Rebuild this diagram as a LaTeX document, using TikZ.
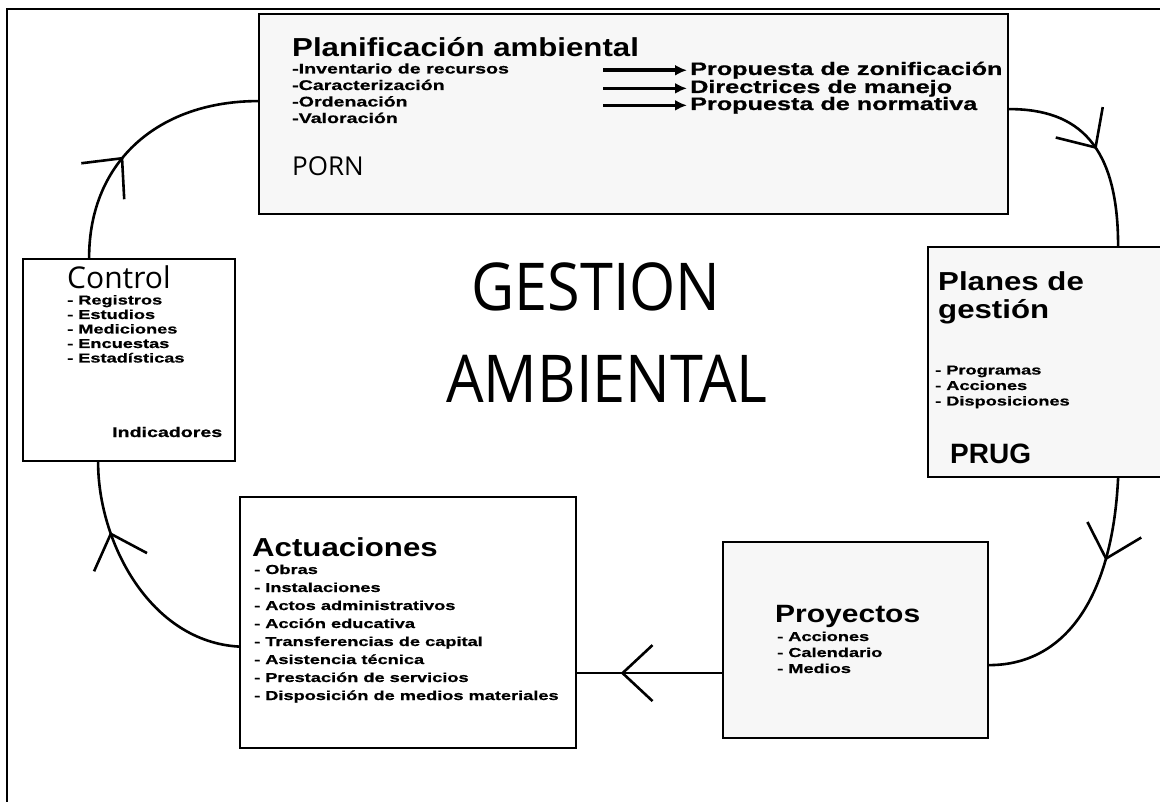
\documentclass[tikz,border=0pt]{standalone}
\usepackage{fontspec}
\setmainfont{Liberation Sans}
\newfontfamily\headfont[FakeStretch=1.2]{Liberation Sans}
\newfontfamily\listfont[FakeStretch=1.4, FakeBold=0.8]{Liberation Sans}
\newfontfamily\comicfont{Open Sans}
\newfontfamily\bigfont[FakeStretch=0.9]{Open Sans}
\usetikzlibrary{arrows.meta, positioning, calc, decorations.markings}
\tikzset{
  panel/.style={rectangle, draw=black, line width=2.2pt, fill=#1, anchor=north west, inner sep=0pt},
  panel/.default=white,
  head/.style={font=\headfont\bfseries\fontsize{#1}{#1}\selectfont, anchor=base west, inner sep=0pt},
  head/.default=26,
  entry/.style={font=\listfont\bfseries\fontsize{#1}{#1}\selectfont, anchor=base west, inner sep=0pt},
  entry/.default=13,
  link/.style={line width=2.6pt, line cap=round},
  barb/.style={postaction={decorate}, decoration={markings,
    mark=at position #1 with {\arrow{Straight Barb[length=30pt, width=56pt]}}}},
  push/.style={-{Latex[length=12pt, width=11pt]}, line width=3.6pt, shorten >=3pt},
}

\begin{document}
\begin{tikzpicture}[x=1pt, y=-1pt]
\useasboundingbox (0,0) rectangle (1160,802);
% outer frame
\draw[line width=1.6pt] (1160,9) -- (7,9) -- (7,802);
% panels
\node[panel=black!3, minimum width=749, minimum height=200] (plan) at (258,13) {};
\node[panel, minimum width=212, minimum height=202] (ctrl) at (22,258) {};
\node[panel=black!3, minimum width=240, minimum height=230] (gest) at (927,246) {};
\node[panel=black!3, minimum width=265, minimum height=196] (proy) at (722,541) {};
\node[panel, minimum width=336, minimum height=251] (act) at (239,496) {};
% planificacion
\node[head] (planT) at ($(plan.north west)+(34,44)$) {Planificación ambiental};
\foreach \t [count=\i] in {-Inventario de recursos, -Caracterización, -Ordenación, -Valoración}
  \node[entry=14] (plan-\i) at ($(plan.north west)+(34,44+16.5*\i)$) {\t};
\node[font=\comicfont\fontsize{26}{26}\selectfont, anchor=base west, inner sep=0pt] (porn) at ($(plan.north west)+(34,163)$) {PORN};
\node[entry=18] (zon) at (690,75) {Propuesta de zonificación};
\node[entry=18] (dir) at (690,93) {Directrices de manejo};
\node[entry=18] (norm) at (690,110) {Propuesta de normativa};
\foreach \n in {zon, dir, norm} {
  \coordinate (\n-from) at ([xshift=-87pt]\n.west);
  \draw[push] (\n-from) -- (\n.west);
}
% control
\node[font=\comicfont\fontsize{30}{30}\selectfont, anchor=base west, inner sep=0pt] (ctrlT) at ($(ctrl.north west)+(45,31)$) {Control};
\foreach \t [count=\i] in {- Registros, - Estudios, - Mediciones, - Encuestas, - Estadísticas}
  \node[entry] (ctrl-\i) at ($(ctrl.north west)+(45,32+14.5*\i)$) {\t};
\node[entry=14] (ind) at ($(ctrl.north west)+(90,179)$) {Indicadores};
% planes de gestion
\node[head=26, align=left, anchor=north west] (gestT) at ($(gest.north west)+(11,25)$) {Planes de\\[2pt] gestión};
\foreach \t [count=\i] in {- Programas, - Acciones, - Disposiciones}
  \node[entry] (gest-\i) at ($(gest.north west)+(8,113+15.5*\i)$) {\t};
\node[font=\bfseries\fontsize{28}{28}\selectfont, anchor=base west, inner sep=0pt] (prug) at ($(gest.north west)+(23,217)$) {PRUG};
% proyectos
\node[head=25] (proyT) at ($(proy.north west)+(53,81)$) {Proyectos};
\foreach \t [count=\i] in {- Acciones, - Calendario, - Medios}
  \node[entry] (proy-\i) at ($(proy.north west)+(55,84+16*\i)$) {\t};
% actuaciones
\node[head] (actT) at ($(act.north west)+(13,60)$) {Actuaciones};
\foreach \t [count=\i] in {- Obras, - Instalaciones, - Actos administrativos, - Acción educativa,
    - Transferencias de capital, - Asistencia técnica, - Prestación de servicios, - Disposición de medios materiales}
  \node[entry] (act-\i) at ($(act.north west)+(15,60+18*\i)$) {\t};
% centre title
\node[font=\bigfont\fontsize{66}{66}\selectfont, inner sep=0pt] (gestion) at (596,287) {GESTION};
\node[font=\bigfont\fontsize{66}{66}\selectfont, inner sep=0pt] (ambiental) at (607,379) {AMBIENTAL};
% cycle
\coordinate (planOut) at ([yshift=5pt]plan.east);
\coordinate (gestIn) at ([xshift=70pt]gest.north);
\coordinate (gestOut) at ([xshift=70pt]gest.south);
\coordinate (proyIn) at ([yshift=-25pt]proy.east);
\coordinate (proyOut) at ([yshift=-33pt]proy.west);
\coordinate (actOut) at ([yshift=-24pt]act.west);
\coordinate (ctrlIn) at ([xshift=-31pt]ctrl.south);
\coordinate (ctrlOut) at ([xshift=-40pt]ctrl.north);
\coordinate (planIn) at ([yshift=13pt]plan.west);
\draw[link, barb=0.5] (planOut) .. controls +(70,0) and +(0,-100) .. (gestIn);
\draw[link, barb=0.33] (gestOut) .. controls +(-6,124) and +(73,0) .. (proyIn);
\draw[link, barb=0.7] (proyOut) -- (proyOut -| act.east);
\draw[link, barb=0.72] (actOut) .. controls +(-89,-5) and +(0,80) .. (ctrlIn);
\draw[link, barb=0.42] (ctrlOut) .. controls +(0,-98) and +(-98,0) .. (planIn);
\end{tikzpicture}
\end{document}
